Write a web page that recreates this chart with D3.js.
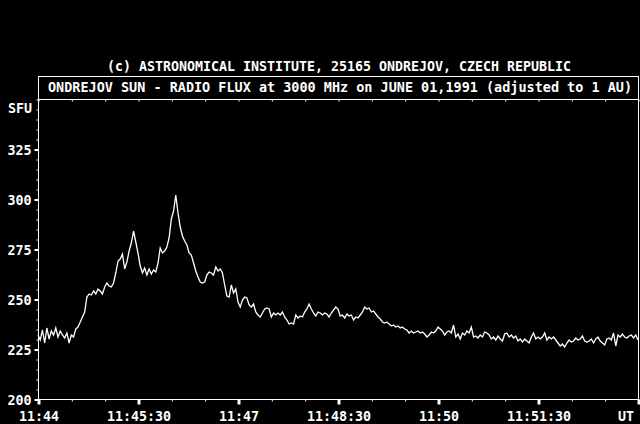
<!DOCTYPE html>
<html>
<head>
<meta charset="utf-8">
<script src="https://cdn.jsdelivr.net/npm/d3@7"></script>
<style>
  html, body { margin: 0; padding: 0; background: #000; }
  svg { display: block; }
  text { font-family: "DejaVu Sans Mono", "Liberation Mono", monospace; font-weight: bold; fill: #fff; }
</style>
</head>
<body>
<svg id="chart" width="640" height="424"></svg>
<script>
// ---- data ----
const titleText = "(c) ASTRONOMICAL INSTITUTE, 25165 ONDREJOV, CZECH REPUBLIC";
const subtitleText = "ONDREJOV SUN - RADIO FLUX at 3000 MHz on JUNE 01,1991 (adjusted to 1 AU)";
const sampleStepSeconds = 2;           // one value every 2 s starting 11:44:00
const flux = [
  232,229.5,234.5,228,235.5,230,234,232,235.5,231,
  234,232,230.5,233,228,232,231,235,236,238.5,
  241,243.5,251,252.5,252,254,252.5,255,254,252.5,
  256,258,256.5,256,258,263,269,270,272.5,265,
  268.5,274,278,284,278.5,273,266.5,263,265.5,262,
  265,262.5,264.5,263.5,268,275.5,273,274,276,280.5,
  290,294,302,293,286,281.5,279,277,273,272,
  268,264,261,258.5,258,258.5,262,263.5,263,262,
  266,264,265,263,257,251.5,251,257,253,255,
  248.5,246,249.5,251,250.5,247,246,247.5,243.5,242,
  241,243,245,245.5,245,241,243,242,243,242,
  243.5,241,239.5,237.5,238,237.5,242,240.5,241.5,241,
  243.5,245,247.5,245,243,241.5,243.5,243,242,243,
  242.5,241,243,244.5,246,245,241.5,242,240.5,242.5,
  241.5,242,239.5,241,240.5,242,243.5,246,245,245.5,
  243.5,244,242.5,241,240,238.5,238,238.5,237.5,236.5,
  237,236,236.5,235.5,236,235,234.5,233,234,233,
  233.5,234,233,233.5,232.5,231,232,233.5,233,234,
  236,235,234,232,233.5,234,233,237,231,232.5,
  230,233,232,234,233,236,231,231.5,230.5,232,
  231,233.5,233,232,230,231,229.5,231.5,230,229,
  232.5,233,231,232,230.5,231.5,229,230,228.5,230,
  229,228,231,233,230,231,230,231,233,229.5,
  231,230,231,229.5,228,226.5,227.5,226,228,229.5,
  228.5,229,230.5,229.5,230,231.5,229,228.5,229,230,
  228,230,231,229,228,227,230,230.5,229.5,233,
  226.5,232,231,232.5,231,230.5,231.5,232,230.5,232,
  229.5
];
const xDomainSeconds = [0, 540];       // 11:44:00 .. 11:53:00
const xMajorTicks = [0, 90, 180, 270, 360, 450, 540];
const xTickLabels = ["11:44", "11:45:30", "11:47", "11:48:30", "11:50", "11:51:30", "UT"];
const xMinorStep = 30;
const yDomain = [200, 350];
const yMajorTicks = [200, 225, 250, 275, 300, 325, 350];
const yTickLabels = ["200", "225", "250", "275", "300", "325", "SFU"];
const yMinorStep = 5;

// ---- layout ----
const svg = d3.select("#chart");
const L = 38, R = 638, T = 99, B = 399;
const x = d3.scaleLinear().domain(xDomainSeconds).range([L, R]);
const y = d3.scaleLinear().domain(yDomain).range([B, T]);

// title
svg.append("text").attr("x", 339).attr("y", 71).attr("text-anchor", "middle")
  .attr("font-size", 13.33).attr("textLength", 464).attr("lengthAdjust", "spacingAndGlyphs")
  .text(titleText);

// subtitle box
svg.append("rect").attr("x", L + 0.5).attr("y", 76.5).attr("width", R - L).attr("height", T - 76)
  .attr("fill", "none").attr("stroke", "#fff").attr("stroke-width", 1);
svg.append("text").attr("x", 340).attr("y", 92).attr("text-anchor", "middle")
  .attr("font-size", 13.33).attr("textLength", 584).attr("lengthAdjust", "spacingAndGlyphs")
  .text(subtitleText);

// plot frame
svg.append("rect").attr("x", L + 0.5).attr("y", T + 0.5).attr("width", R - L).attr("height", B - T)
  .attr("fill", "none").attr("stroke", "#fff").attr("stroke-width", 1);

// minor ticks
const xMinor = d3.range(xDomainSeconds[0], xDomainSeconds[1] + 1, xMinorStep);
const yMinor = d3.range(yDomain[0], yDomain[1] + 1, yMinorStep);

const gx = svg.append("g").attr("transform", `translate(0.5,${B + 0.5})`);
gx.call(d3.axisBottom(x).tickValues(xMinor).tickSize(2).tickFormat(""))
  .call(g => g.select(".domain").remove())
  .call(g => g.selectAll("line").attr("stroke", "#fff"));
const gxM = svg.append("g").attr("transform", `translate(0.5,${B + 0.5})`);
gxM.call(d3.axisBottom(x).tickValues(xMajorTicks).tickSize(5).tickPadding(10)
    .tickFormat((d, i) => xTickLabels[i]))
  .call(g => g.select(".domain").remove())
  .call(g => g.selectAll("line").attr("stroke", "#fff").attr("stroke-width", 3))
  .call(g => g.selectAll("text").attr("font-size", 13.33).attr("fill", "#fff")
     .attr("font-family", "DejaVu Sans Mono").attr("font-weight", "bold")
     .attr("dy", null).attr("y", 21.5));
gxM.selectAll(".tick").filter((d, i) => i === xMajorTicks.length - 1)
  .select("text").attr("text-anchor", "end").attr("x", -5);

// top ticks
const gt = svg.append("g").attr("transform", `translate(0.5,${T + 0.5})`);
gt.call(d3.axisTop(x).tickValues(xMinor).tickSize(-2).tickFormat(""))
  .call(g => g.select(".domain").remove())
  .call(g => g.selectAll("line").attr("stroke", "#fff"));

// y axis
const gy = svg.append("g").attr("transform", `translate(${L + 0.5},0.5)`);
gy.call(d3.axisLeft(y).tickValues(yMinor).tickSize(2).tickFormat(""))
  .call(g => g.select(".domain").remove())
  .call(g => g.selectAll("line").attr("stroke", "#fff"));
const gyM = svg.append("g").attr("transform", `translate(${L + 0.5},0.5)`);
gyM.call(d3.axisLeft(y).tickValues(yMajorTicks.slice(0, -1)).tickSize(4).tickPadding(3)
    .tickFormat((d, i) => yTickLabels[i]))
  .call(g => g.select(".domain").remove())
  .call(g => g.selectAll("line").attr("stroke", "#fff").attr("stroke-width", 2))
  .call(g => g.selectAll("text").attr("font-size", 13.33).attr("fill", "#fff")
     .attr("font-family", "DejaVu Sans Mono").attr("font-weight", "bold")
     .attr("dy", null).attr("y", 5));
// unit label at top of axis
svg.append("text").attr("x", L - 6).attr("y", y(yMajorTicks[yMajorTicks.length - 1]) + 13.5)
  .attr("text-anchor", "end").attr("font-size", 13.33)
  .text(yTickLabels[yTickLabels.length - 1]);

// flux curve
const line = d3.line()
  .x((d, i) => x(i * sampleStepSeconds))
  .y(d => y(d));
svg.append("path").datum(flux)
  .attr("d", line)
  .attr("fill", "none")
  .attr("stroke", "#fff")
  .attr("stroke-width", 1.3)
  .attr("stroke-linejoin", "miter");
</script>
</body>
</html>
